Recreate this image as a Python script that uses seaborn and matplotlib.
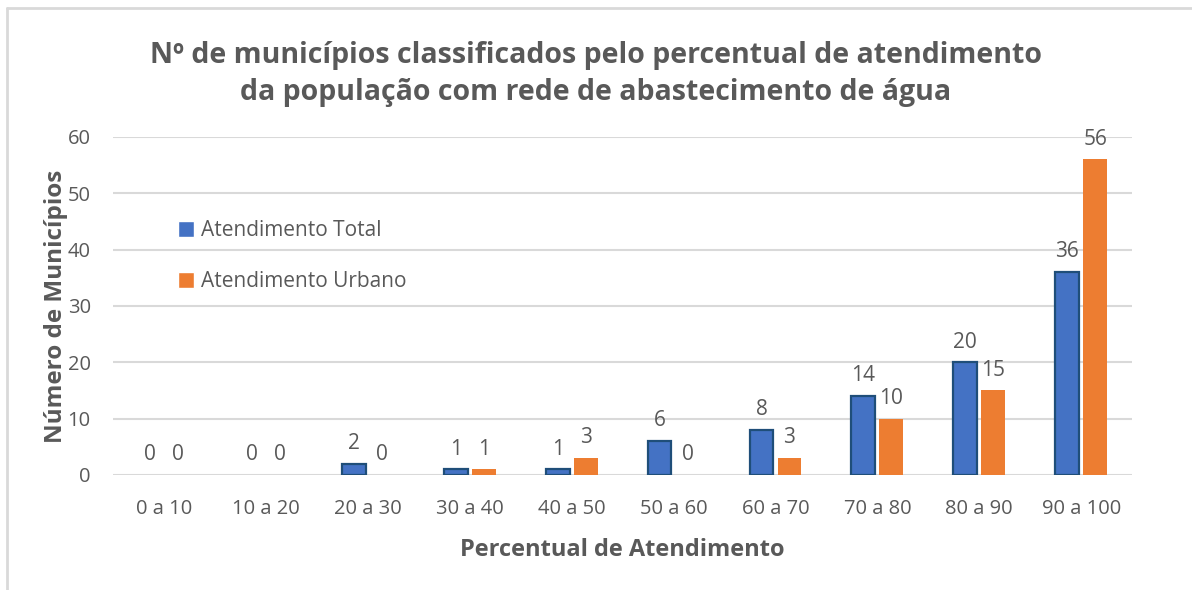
import pandas as pd
import matplotlib.pyplot as plt
import seaborn as sns
from matplotlib.lines import Line2D

# data
faixas = ["0 a 10", "10 a 20", "20 a 30", "30 a 40", "40 a 50",
          "50 a 60", "60 a 70", "70 a 80", "80 a 90", "90 a 100"]
atend_total = [0, 0, 2, 1, 1, 6, 8, 14, 20, 36]
atend_urbano = [0, 0, 0, 1, 3, 0, 3, 10, 15, 56]
series = ["Atendimento Total", "Atendimento Urbano"]
y_ticks = [0, 10, 20, 30, 40, 50, 60]

df = pd.DataFrame({
    "Faixa": faixas * 2,
    "Municipios": atend_total + atend_urbano,
    "Tipo": [series[0]] * len(faixas) + [series[1]] * len(faixas),
})

sns.set_theme(style="white")
plt.rcParams["font.family"] = ["Open Sans", "DejaVu Sans"]
grey = "#595959"

fig = plt.figure(figsize=(11.92, 5.9), dpi=100)
ax = fig.add_axes([0.0948, 0.195, 0.855, 0.573])

sns.barplot(data=df, x="Faixa", y="Municipios", hue="Tipo", order=faixas,
            hue_order=series, palette=["#4472C4", "#ED7D31"],
            width=0.55, gap=0.15, saturation=1, ax=ax, zorder=3)

# dark outline on the blue bars only (not on the empty ones)
for bar in ax.containers[0]:
    bar.set_edgecolor("#1F4E79")
    bar.set_linewidth(1.6 if bar.get_height() > 0 else 0)
for bar in ax.containers[1]:
    bar.set_linewidth(0)

for cont in ax.containers:
    ax.bar_label(cont, padding=7, fontsize=15, color=grey)

ax.set_ylim(0, 60)
ax.set_yticks(y_ticks)
ax.grid(axis="y", color="#D9D9D9", linewidth=1.5, zorder=0)
ax.set_axisbelow(True)
for s in ax.spines.values():
    s.set_visible(False)
ax.tick_params(axis="both", length=0, labelsize=14.5, labelcolor=grey)
ax.tick_params(axis="x", pad=17)
ax.tick_params(axis="y", pad=16)

ax.set_xlabel("Percentual de Atendimento", fontsize=17, fontweight="bold",
              color=grey, labelpad=14)
ax.set_ylabel("Número de Municípios", fontsize=17.5, fontweight="bold",
              color=grey, labelpad=0)

leg = ax.legend(loc="upper left", bbox_to_anchor=(0.045, 0.81), frameon=False,
                fontsize=15, labelcolor=grey, handlelength=0.8, handleheight=0.8,
                handletextpad=0.3, labelspacing=1.45)

fig.text(0.5, 0.93, "Nº de municípios classificados pelo percentual de atendimento\n"
         "da população com rede de abastecimento de água",
         ha="center", va="top", fontsize=20.5, fontweight="bold", color=grey,
         linespacing=1.35)

# light frame on the top and left edges like the source image
fig.add_artist(Line2D([0.006, 0.006], [0, 0.986], transform=fig.transFigure,
                      color="#D9D9D9", lw=2))
fig.add_artist(Line2D([0.006, 1], [0.986, 0.986], transform=fig.transFigure,
                      color="#D9D9D9", lw=2))

fig.savefig("out.png", dpi=100, facecolor="white")
plt.close(fig)
